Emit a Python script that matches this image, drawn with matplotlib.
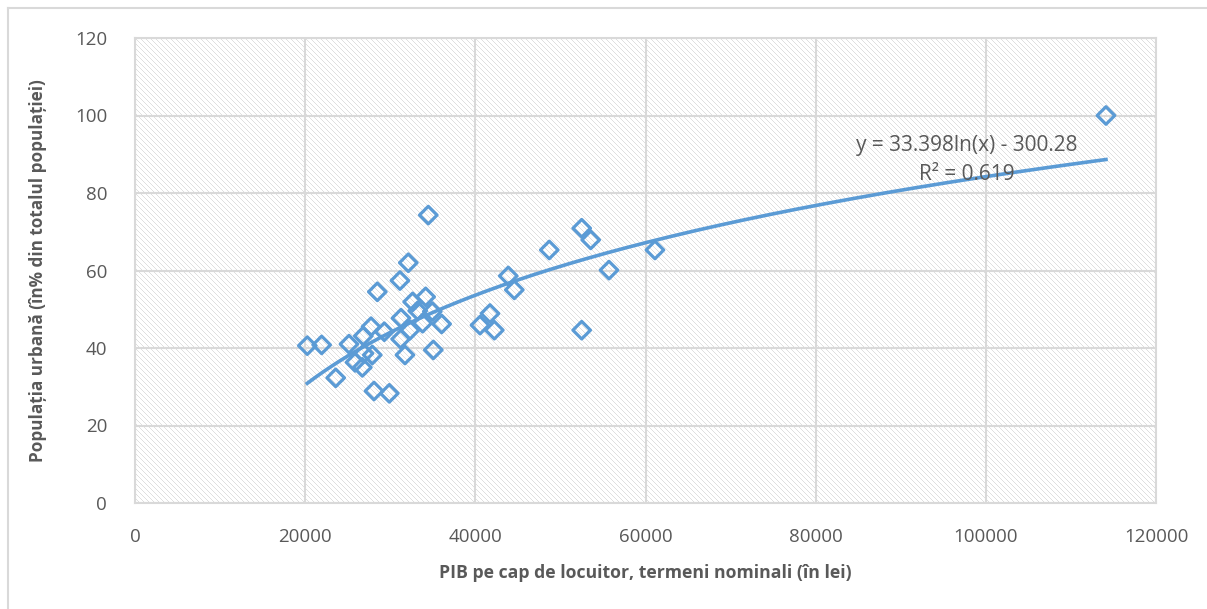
import numpy as np
import matplotlib
matplotlib.use('Agg')
import matplotlib.pyplot as plt

# PIB pe cap de locuitor (lei) si populatia urbana (%)
pib = [34470, 52500, 53560, 48690, 61110, 55710, 43870, 44580, 52500, 40550,
       41720, 42230, 32120, 31140, 28480, 34160, 32630, 33230, 34940, 36040,
       33800, 31260, 32320, 31220, 29300, 27740, 26830, 25150, 21940, 20250,
       26910, 27890, 25860, 26720, 31730, 35060, 23590, 28090, 29890, 114120]
urban = [74.3, 70.9, 67.9, 65.3, 65.3, 60.1, 58.6, 55.0, 44.6, 45.9,
         48.9, 44.6, 62.0, 57.4, 54.5, 53.2, 51.9, 49.6, 49.4, 46.2,
         46.4, 47.7, 44.6, 42.3, 44.2, 45.5, 43.1, 41.0, 40.8, 40.6,
         38.6, 38.2, 36.3, 35.0, 38.2, 39.5, 32.3, 28.9, 28.3, 100.0]

coef_a = 33.398
coef_b = -300.28
r2 = 0.619

x_ticks = [0, 20000, 40000, 60000, 80000, 100000, 120000]
y_ticks = [0, 20, 40, 60, 80, 100, 120]

blue = '#5B9BD5'
grey_text = '#595959'
grid_col = '#d9d9d9'

plt.rcParams['font.family'] = ['Open Sans', 'DejaVu Sans']

W, H = 1207, 609
L, R, T, B = 135, 1156, 38, 503

fig = plt.figure(figsize=(W / 100, H / 100), dpi=100)
ax = fig.add_axes([L / W, 1 - B / H, (R - L) / W, (B - T) / H])
ax.patch.set_facecolor('none')

# fundal hasurat (linii diagonale la 5 px)
rows, cols = np.mgrid[0:B - T, 0:R - L]
tex = np.ones((B - T, R - L, 3))
tex[(cols - rows) % 5 == 0] = 0.875
fig.figimage(tex, xo=L, yo=H - B, origin='upper', zorder=-1)

ax.scatter(pib, urban, marker='D', s=80, facecolors='none', edgecolors=blue,
           linewidths=2.3, zorder=3)

xs = np.linspace(min(pib), max(pib), 300)
ax.plot(xs, coef_a * np.log(xs) + coef_b, color=blue, linewidth=2.6, zorder=2)

fig.text(967 / W, 1 - 146 / H, 'y = %.3fln(x) - %.2f' % (coef_a, -coef_b),
         ha='center', va='center', fontsize=15, color=grey_text)
fig.text(967 / W, 1 - 174 / H, 'R² = %.3f' % r2,
         ha='center', va='center', fontsize=15, color=grey_text)

ax.set_xlim(0, 120000)
ax.set_ylim(0, 120)
ax.set_xticks(x_ticks)
ax.set_yticks(y_ticks)
ax.grid(True, color=grid_col, linewidth=1.5, zorder=1)
ax.set_axisbelow(True)
ax.tick_params(length=0, labelsize=13.5, labelcolor=grey_text)
ax.tick_params(axis='x', pad=18)
ax.tick_params(axis='y', pad=20)
for s in ax.spines.values():
    s.set_color(grid_col)
    s.set_linewidth(1.5)

ax.set_xlabel('PIB pe cap de locuitor, termeni nominali (în lei)', fontsize=12.7,
              fontweight='bold', color=grey_text, labelpad=13)
ax.set_ylabel('Populația urbană (în% din totalul populației)', fontsize=12.3,
              fontweight='bold', color=grey_text, labelpad=20)

# chenarul graficului
fig.add_artist(plt.Line2D([8 / W, 1], [1 - 8 / H, 1 - 8 / H], color=grid_col, linewidth=1.5))
fig.add_artist(plt.Line2D([8 / W, 8 / W], [0, 1 - 8 / H], color=grid_col, linewidth=1.5))

plt.savefig('out.png', dpi=100)
plt.close()
